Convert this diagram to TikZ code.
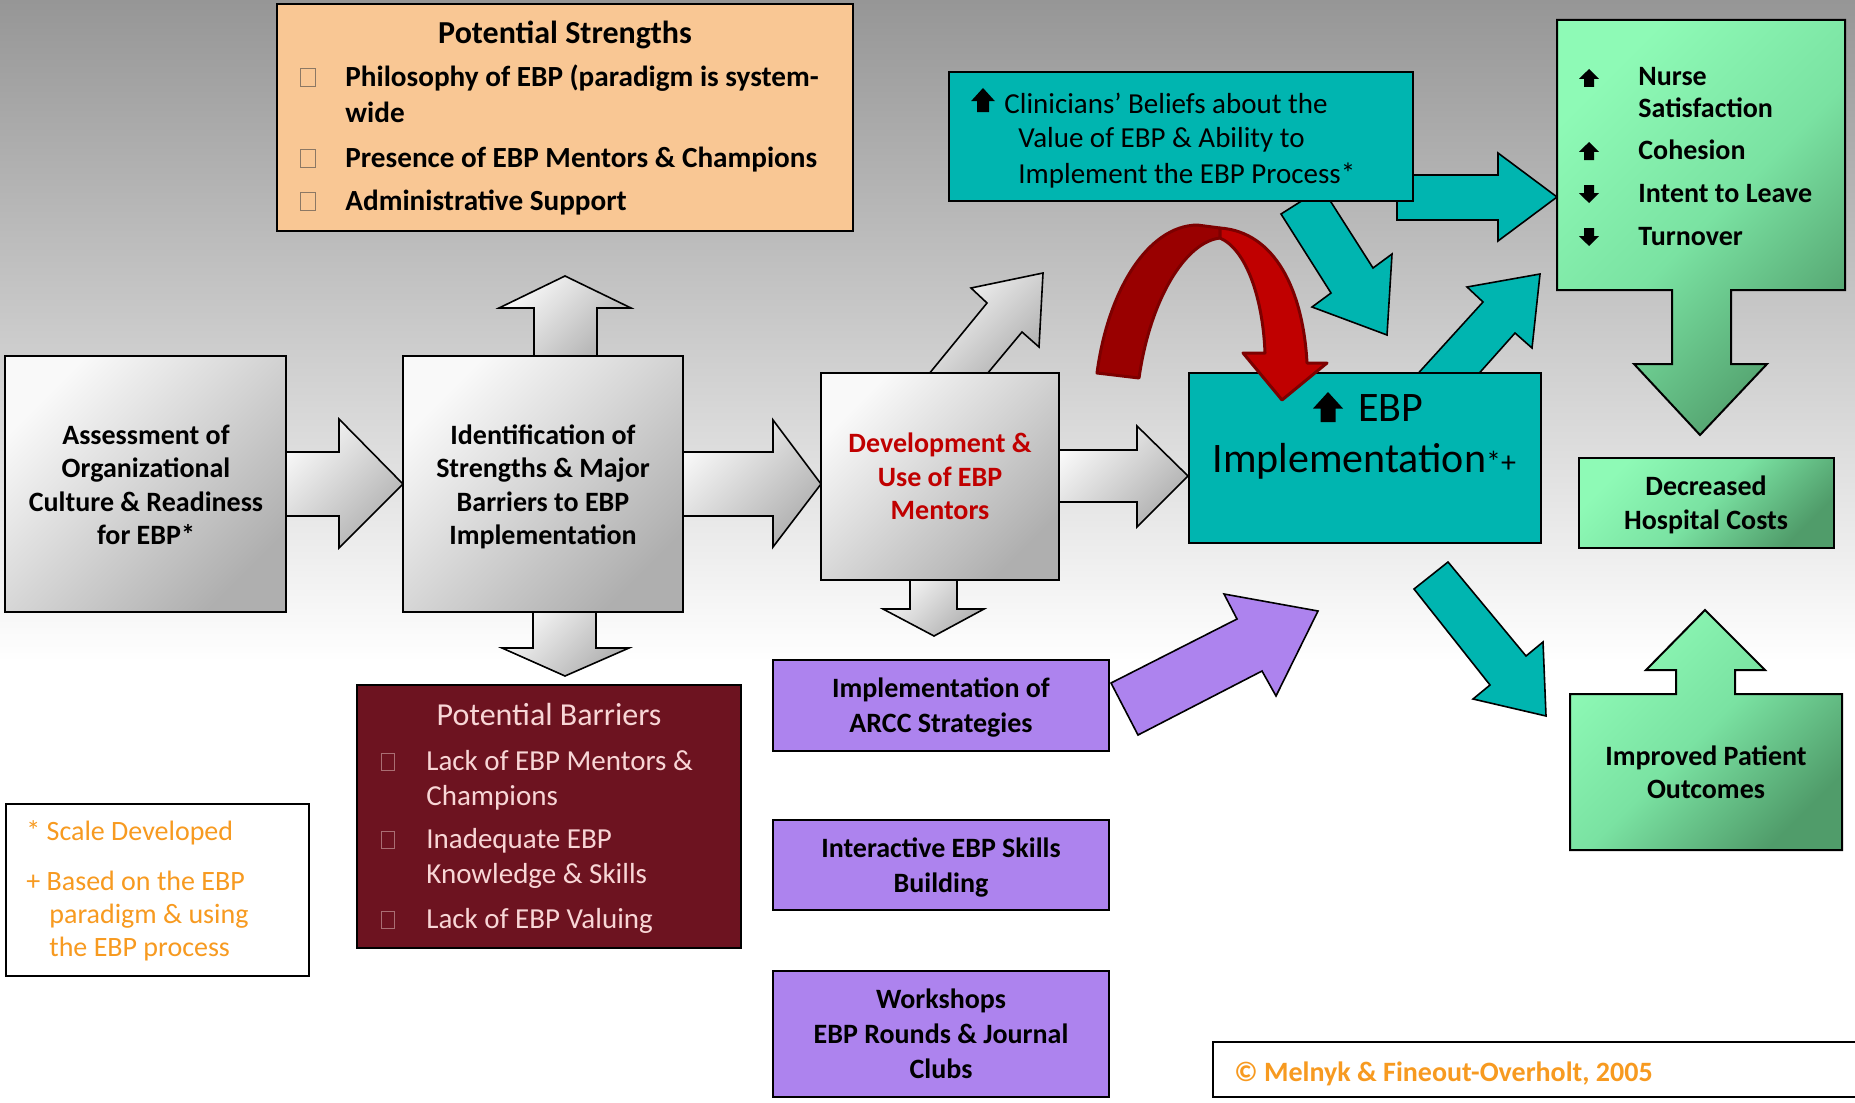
\documentclass[tikz,border=0pt]{standalone}
\usepackage{fontspec}
\setmainfont{Carlito}
\usetikzlibrary{fit}
\definecolor{bgtop}{RGB}{150,150,150}
\definecolor{orfill}{RGB}{249,199,148}
\definecolor{marfill}{RGB}{109,19,32}
\definecolor{martext}{RGB}{248,214,214}
\definecolor{marsq}{RGB}{170,110,115}
\definecolor{orsq}{RGB}{140,120,100}
\definecolor{tealf}{RGB}{0,181,176}
\definecolor{purpf}{RGB}{173,131,238}
\definecolor{legor}{RGB}{247,154,32}
\definecolor{grL}{RGB}{249,249,249}
\definecolor{grD}{RGB}{175,175,175}
\definecolor{gnL}{RGB}{142,250,182}
\definecolor{gnM}{RGB}{122,226,162}
\definecolor{gnD}{RGB}{80,156,106}
\definecolor{redD}{RGB}{153,0,0}
\definecolor{redL}{RGB}{192,0,0}
\definecolor{redE}{RGB}{125,0,0}
\definecolor{devred}{RGB}{192,0,0}
\begin{document}
\begin{tikzpicture}[x=0.5pt,y=-0.5pt,
  line join=miter,
  frame/.style={draw=black,line width=1pt,inner sep=0pt},
  graybox/.style={frame,top color=grL,bottom color=grD,shading angle=45},
  grayarrow/.style={draw=black,line width=0.8pt,top color=grL,bottom color=grD,shading angle=45},
  tealarrow/.style={draw=black,line width=0.8pt,fill=tealf},
  purparrow/.style={draw=black,line width=0.8pt,fill=purpf},
  greenshape/.style={draw=black,line width=1pt,top color=gnL,bottom color=gnD,middle color=gnM,shading angle=45,inner sep=0pt},
  tealbox/.style={frame,fill=tealf},
  purpbox/.style={frame,fill=purpf},
  ln/.style={inner sep=0pt,anchor=base,font=\fontsize{14}{16.8}\selectfont\bfseries},
  txt/.style={inner sep=0pt,anchor=base west},
  ortxt/.style={txt,font=\fontsize{14.6}{17}\selectfont\bfseries},
  martxt/.style={txt,text=martext,font=\fontsize{14.5}{17}\selectfont},
  cltxt/.style={txt,font=\fontsize{14.5}{17}\selectfont},
  gntxt/.style={txt,font=\fontsize{14}{16.5}\selectfont\bfseries},
  legtxt/.style={txt,text=legor,font=\fontsize{14}{16.5}\selectfont},
  upicon/.pic={\fill[black] (-0.5,0.05) -- (0,-0.5) -- (0.5,0.05) -- (0.25,0.05) -- (0.25,0.5) -- (-0.25,0.5) -- (-0.25,0.05) -- cycle;},
  downicon/.pic={\fill[black] (-0.5,-0.05) -- (0,0.5) -- (0.5,-0.05) -- (0.25,-0.05) -- (0.25,-0.5) -- (-0.25,-0.5) -- (-0.25,-0.05) -- cycle;},
]
\useasboundingbox (0,0) rectangle (1855,1102);
\shade[top color=bgtop,bottom color=white] (0,0) rectangle (1855,662);
\fill[white] (0,660) rectangle (1855,1102);

% gray block arrows
\path[grayarrow] (280,452) -- (339,452) -- (339,419) -- (403,484) -- (339,548) -- (339,516) -- (280,516) -- cycle;
\path[grayarrow] (678,452) -- (773,452) -- (773,420) -- (821,484) -- (773,547) -- (773,516) -- (678,516) -- cycle;
\path[grayarrow] (1054,450) -- (1137,450) -- (1137,426) -- (1188,476) -- (1137,527) -- (1137,502) -- (1054,502) -- cycle;
\path[grayarrow] (534,362) -- (534,308) -- (499,308) -- (565,276) -- (631,308) -- (597,308) -- (597,362) -- cycle;
\path[grayarrow] (533,606) -- (533,648) -- (502,648) -- (565,676) -- (629,648) -- (596,648) -- (596,606) -- cycle;
\path[grayarrow] (910,575) -- (910,609) -- (883,609) -- (934,636) -- (984,609) -- (957,609) -- (957,575) -- cycle;
\path[grayarrow] (924,380) -- (987,303) -- (971,288) -- (1043,273) -- (1039,347) -- (1022,332) -- (982,380) -- cycle;

% teal and purple block arrows
\path[tealarrow] (1397,175) -- (1498,175) -- (1498,153) -- (1557,197) -- (1498,241) -- (1498,220) -- (1397,220) -- cycle;
\path[tealarrow] (1281,214) -- (1322,188) -- (1373,268) -- (1392,254) -- (1387,335) -- (1312,307) -- (1331,293) -- cycle;
\path[tealarrow] (1413,379) -- (1483,302) -- (1467,287) -- (1540,274) -- (1532,348) -- (1515,333) -- (1474,379) -- cycle;
\path[tealarrow] (1414,589) -- (1448,562) -- (1526,656) -- (1543,642) -- (1546,716) -- (1473,699) -- (1490,685) -- cycle;
\path[purparrow] (1111,683) -- (1237,619) -- (1224,594) -- (1318,611) -- (1276,696) -- (1262,671) -- (1138,735) -- cycle;

% green shapes (box merged with arrow)
\path[greenshape] (1557,20) -- (1845,20) -- (1845,290) -- (1731,290) -- (1731,364) -- (1767,364) -- (1700,435) -- (1634,364) -- (1672,364) -- (1672,290) -- (1557,290) -- cycle;
\path[greenshape] (1570,694) -- (1676,694) -- (1676,670) -- (1646,670) -- (1705,610) -- (1765,670) -- (1735,670) -- (1735,694) -- (1842,694) -- (1842,850) -- (1570,850) -- cycle;

% boxes
\node[graybox,fit={(5,356)(286,612)}] (assess) {};
\node[graybox,fit={(403,356)(683,612)}] (ident) {};
\node[graybox,fit={(821,373)(1059,580)}] (devel) {};
\node[frame,fill=orfill,fit={(277,4)(853,231)}] (strengths) {};
\node[tealbox,fit={(949,72)(1413,201)}] (beliefs) {};
\node[tealbox,fit={(1189,373)(1541,543)}] (ebp) {};
\node[frame,fill=marfill,fit={(357,685)(741,948)}] (barriers) {};
\node[purpbox,fit={(773,660)(1109,751)}] (arcc) {};
\node[purpbox,fit={(773,820)(1109,910)}] (skills) {};
\node[purpbox,fit={(773,971)(1109,1097)}] (workshops) {};
\node[frame,fill=white,fit={(6,804)(309,976)}] (legend) {};
\node[frame,fill=white,fit={(1213,1042)(1880,1097)}] (copyright) {};
\node[greenshape,fit={(1579,458)(1834,548)}] (costs) {};
\node[inner sep=0pt,fit={(1557,20)(1845,290)}] (staff) {};
\node[inner sep=0pt,fit={(1570,694)(1842,850)}] (patient) {};

% centred box texts, one node per line
\node[ln] (as1) at (146,444) {Assessment of};
\node[ln] (as2) at (146,477) {Organizational};
\node[ln] (as3) at (146,511) {Culture \& Readiness};
\node[ln] (as4) at (146,544) {for EBP*};
\node[ln] (id1) at (543,444) {Identification of};
\node[ln] (id2) at (543,477) {Strengths \& Major};
\node[ln] (id3) at (543,511) {Barriers to EBP};
\node[ln] (id4) at (543,544) {Implementation};
\node[ln,text=devred] (dv1) at (940,452) {Development \&};
\node[ln,text=devred] (dv2) at (940,486) {Use of EBP};
\node[ln,text=devred] (dv3) at (940,519) {Mentors};
\node[ln] (ar1) at (941,697) {Implementation of};
\node[ln] (ar2) at (941,732) {ARCC Strategies};
\node[ln] (sk1) at (941,857) {Interactive EBP Skills};
\node[ln] (sk2) at (941,892) {Building};
\node[ln] (ws1) at (941,1008) {Workshops};
\node[ln] (ws2) at (941,1043) {EBP Rounds \& Journal};
\node[ln] (ws3) at (941,1078) {Clubs};
\node[ln] (co1) at (1706,495) {Decreased};
\node[ln] (co2) at (1706,529) {Hospital Costs};
\node[ln] (pa1) at (1706,765) {Improved Patient};
\node[ln] (pa2) at (1706,798) {Outcomes};

% red curved arrow
\path[fill=redD,draw=redE,line width=1.5pt,line join=round] (1097,373) .. controls (1108,290) and (1148,226) .. (1197,225) -- (1220,228) -- (1220,238) .. controls (1185,242) and (1150,300) .. (1139,378) -- cycle;
\path[fill=redL,draw=redE,line width=1.5pt,line join=round] (1220,228) .. controls (1275,232) and (1303,290) .. (1307,363) -- (1327,363) -- (1282,400) -- (1243,353) -- (1265,353) .. controls (1263,300) and (1247,250) .. (1220,238) -- cycle;

% strengths text
\node[ortxt,anchor=base,font=\fontsize{16}{19}\selectfont\bfseries] (st0) at (565,44) {Potential Strengths};
\node[ortxt] (st1) at (345,87) {Philosophy of EBP (paradigm is system-};
\node[ortxt] (st1b) at (345,122) {wide};
\node[ortxt] (st2) at (345,167) {Presence of EBP Mentors \& Champions};
\node[ortxt] (st3) at (345,210) {Administrative Support};
\foreach \y in {87,167,210} \draw[draw=orsq,line width=0.5pt] (300,\y-18) rectangle (315,\y);

% barriers text
\node[martxt,anchor=base,font=\fontsize{16}{19}\selectfont] (bt0) at (549,725) {Potential Barriers};
\node[martxt] (bt1) at (426,770) {Lack of EBP Mentors \&};
\node[martxt] (bt1b) at (426,805) {Champions};
\node[martxt] (bt2) at (426,848) {Inadequate EBP};
\node[martxt] (bt2b) at (426,883) {Knowledge \& Skills};
\node[martxt] (bt3) at (426,928) {Lack of EBP Valuing};
\foreach \y in {770,848,928} \draw[draw=marsq,line width=0.5pt] (381,\y-17) rectangle (394,\y);

% beliefs text
\pic[scale=24] at (983,100) {upicon};
\node[cltxt] (cb1) at (1004,113) {Clinicians’ Beliefs about the};
\node[cltxt] (cb2) at (1018,148) {Value of EBP \& Ability to};
\node[cltxt] (cb3) at (1018,183) {Implement the EBP Process*};

% EBP implementation text
\pic[scale=30] at (1328,407) {upicon};
\node[txt,font=\fontsize{21}{25}\selectfont] (ebp1) at (1358,421) {EBP};
\node[txt,font=\fontsize{21}{25}\selectfont] (ebp2) at (1212,472) {Implementation{\fontsize{15}{17}\selectfont *+}};

% staff outcomes text
\pic[xscale=20,yscale=18] at (1589,78) {upicon};
\node[gntxt] (g1) at (1638,86) {Nurse};
\node[gntxt] (g1b) at (1638,118) {Satisfaction};
\pic[xscale=20,yscale=18] at (1589,151) {upicon};
\node[gntxt] (g2) at (1638,159) {Cohesion};
\pic[xscale=20,yscale=18] at (1589,194) {downicon};
\node[gntxt] (g3) at (1638,202) {Intent to Leave};
\pic[xscale=20,yscale=18] at (1589,237) {downicon};
\node[gntxt] (g4) at (1638,245) {Turnover};

% legend
\node[legtxt] (l1) at (26,840) {* Scale Developed};
\node[legtxt] (l2) at (26,890) {+ Based on the EBP};
\node[legtxt] (l2b) at (49,923) {paradigm \& using};
\node[legtxt] (l2c) at (49,956) {the EBP process};

\node[txt,text=legor,font=\fontsize{14}{16.5}\selectfont\bfseries] (copy) at (1234,1081) {© Melnyk \& Fineout-Overholt, 2005};
\end{tikzpicture}
\end{document}
